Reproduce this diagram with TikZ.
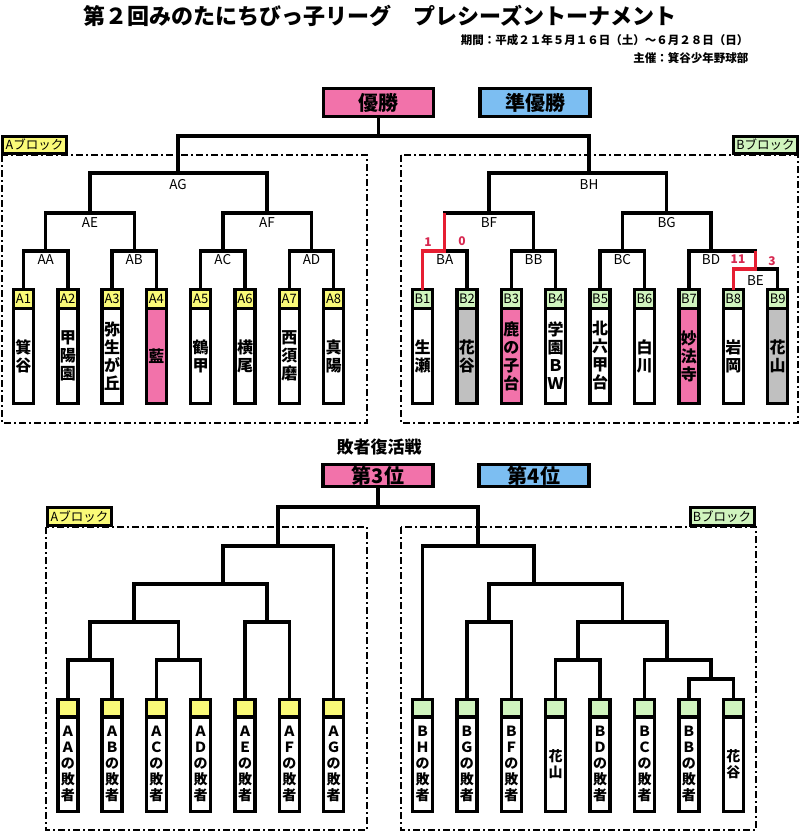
\documentclass[tikz,border=0pt]{standalone}
\usepackage{fontspec}
\setmainfont{Noto Sans CJK JP}
\usepackage{tikz}
\usetikzlibrary{positioning}

\definecolor{pinkc}{RGB}{242,114,170}
\definecolor{bluec}{RGB}{124,190,242}
\definecolor{tagyellow}{RGB}{250,250,120}
\definecolor{taggreen}{RGB}{208,244,190}
\definecolor{lossgray}{RGB}{192,192,192}
\definecolor{winred}{RGB}{230,30,50}
\definecolor{scorered}{RGB}{215,40,80}

\tikzset{
  tree/.style={line width=3.4pt},
  winline/.style={line width=3.4pt, draw=winred},
  block/.style={line width=1.6pt, dash pattern=on 7pt off 3pt on 2pt off 3pt},
  blocktag/.style={draw, line width=3pt, inner sep=0pt, minimum width=64pt, font=\fontsize{12.5}{12.5}\selectfont},
  rank/.style={draw, line width=3.4pt, minimum width=110pt, inner sep=0pt, font=\fontsize{20}{20}\selectfont\bfseries},
  seed/.style={draw, line width=3.4pt, minimum width=20pt, minimum height=19pt, inner sep=0pt, outer sep=0pt, font=\fontsize{13}{13}\selectfont},
  team/.style={draw, line width=3.4pt, fill=white, minimum width=20pt, minimum height=95pt, inner sep=0pt, outer sep=0pt, align=center, font=\fontsize{16}{18}\selectfont\bfseries},
  slot/.style={draw, line width=3.4pt, minimum width=20pt, minimum height=17.5pt, inner sep=0pt, outer sep=0pt},
  loser/.style={draw, line width=3.4pt, fill=white, minimum width=20pt, minimum height=94.5pt, inner sep=0pt, outer sep=0pt, align=center, font=\fontsize{14}{16}\selectfont\bfseries},
  mlabel/.style={inner sep=0pt, font=\fontsize{13.5}{13.5}\selectfont},
  score/.style={inner sep=0pt, text=scorered, font=\fontsize{12}{12}\selectfont\bfseries}
}

\begin{document}
\begin{tikzpicture}[x=1pt, y=-1pt]
\useasboundingbox (0,0) rectangle (800,832);

% --- heading ---
\node[font=\fontsize{22}{22}\selectfont\bfseries] (title) at (380,16) {第２回みのたにちびっ子リーグ　プレシーズントーナメント};
\node[anchor=east, font=\fontsize{11.5}{11.5}\selectfont\bfseries] (period) at (752,40) {期間：平成２１年５月１６日（土）～６月２８日（日）};
\node[anchor=east, font=\fontsize{11.5}{11.5}\selectfont\bfseries] (host) at (752,58) {主催：箕谷少年野球部};

\node[rank, fill=pinkc, minimum height=28pt] (win) at (378.5,102.5) {優勝};
\node[rank, fill=bluec, minimum height=28pt] (second) at (535,102.5) {準優勝};

% --- blocks (main) ---
\draw[block] (2,155) rectangle (367,423);
\draw[block] (401,155) rectangle (798,423);
\node[blocktag, fill=tagyellow, minimum height=17pt] (tagA) at (34.5,145) {Aブロック};
\node[blocktag, fill=taggreen, minimum height=17pt] (tagB) at (765.5,145) {Bブロック};

% A block entries
\node[seed, fill=tagyellow] (A1) at (23.5,299) {A1};   \node[team, below=0pt of A1] (nA1) {箕\\谷};
\node[seed, fill=tagyellow] (A2) at (67.8,299) {A2};   \node[team, below=0pt of A2] (nA2) {甲\\陽\\園};
\node[seed, fill=tagyellow] (A3) at (112.1,299) {A3};  \node[team, below=0pt of A3] (nA3) {弥\\生\\が\\丘};
\node[seed, fill=tagyellow] (A4) at (156.4,299) {A4};  \node[team, fill=pinkc, below=0pt of A4] (nA4) {藍};
\node[seed, fill=tagyellow] (A5) at (200.7,299) {A5};  \node[team, below=0pt of A5] (nA5) {鶴\\甲};
\node[seed, fill=tagyellow] (A6) at (245,299) {A6};    \node[team, below=0pt of A6] (nA6) {横\\尾};
\node[seed, fill=tagyellow] (A7) at (289.3,299) {A7};  \node[team, below=0pt of A7] (nA7) {西\\須\\磨};
\node[seed, fill=tagyellow] (A8) at (333.6,299) {A8};  \node[team, below=0pt of A8] (nA8) {真\\陽};

% B block entries
\node[seed, fill=taggreen] (B1) at (422.5,299) {B1};  \node[team, below=0pt of B1] (nB1) {生\\瀬};
\node[seed, fill=taggreen] (B2) at (466.9,299) {B2};  \node[team, fill=lossgray, below=0pt of B2] (nB2) {花\\谷};
\node[seed, fill=taggreen] (B3) at (511.3,299) {B3};  \node[team, fill=pinkc, below=0pt of B3] (nB3) {鹿\\の\\子\\台};
\node[seed, fill=taggreen] (B4) at (555.7,299) {B4};  \node[team, below=0pt of B4] (nB4) {学\\園\\Ｂ\\Ｗ};
\node[seed, fill=taggreen] (B5) at (600.1,299) {B5};  \node[team, below=0pt of B5] (nB5) {北\\六\\甲\\台};
\node[seed, fill=taggreen] (B6) at (644.5,299) {B6};  \node[team, below=0pt of B6] (nB6) {白\\川};
\node[seed, fill=taggreen] (B7) at (688.9,299) {B7};  \node[team, fill=pinkc, below=0pt of B7] (nB7) {妙\\法\\寺};
\node[seed, fill=taggreen] (B8) at (733.3,299) {B8};  \node[team, below=0pt of B8] (nB8) {岩\\岡};
\node[seed, fill=taggreen] (B9) at (777.7,299) {B9};  \node[team, fill=lossgray, below=0pt of B9] (nB9) {花\\山};

% match points
\coordinate (final) at (378.5,136);
\coordinate (AG) at (178,173);
\coordinate (AE) at (90,213);
\coordinate (AF) at (267,213);
\coordinate (AA) at (45.7,251);
\coordinate (AB) at (134.2,251);
\coordinate (AC) at (222.8,251);
\coordinate (AD) at (311.5,251);
\coordinate (BH) at (589,173);
\coordinate (BF) at (489,213);
\coordinate (BG) at (666.6,213);
\coordinate (BA) at (444.7,251);
\coordinate (BB) at (533.5,251);
\coordinate (BC) at (622.3,251);
\coordinate (BD) at (711,251);
\coordinate (BE) at (755.5,269);

% A bracket
\draw[tree] (A1.north) |- (AA) -| (A2.north);
\draw[tree] (A3.north) |- (AB) -| (A4.north);
\draw[tree] (A5.north) |- (AC) -| (A6.north);
\draw[tree] (A7.north) |- (AD) -| (A8.north);
\draw[tree] (AA) |- (AE) -| (AB);
\draw[tree] (AC) |- (AF) -| (AD);
\draw[tree] (AE) |- (AG) -| (AF);

% B bracket
\draw[tree] (B1.north) |- (BA) -| (B2.north);
\draw[tree] (B3.north) |- (BB) -| (B4.north);
\draw[tree] (B5.north) |- (BC) -| (B6.north);
\draw[tree] (B8.north) |- (BE) -| (B9.north);
\draw[tree] (B7.north) |- (BD) -| (BE);
\draw[tree] (BA) |- (BF) -| (BB);
\draw[tree] (BC) |- (BG) -| (BD);
\draw[tree] (BF) |- (BH) -| (BG);
\draw[winline] (B1.north) |- (BA) -- (BA |- BF);
\draw[winline] (B8.north) |- (BE) -- (BE |- BD);

% final
\draw[tree] (win.south) -- (final);
\draw[tree] (AG) |- (final) -| (BH);

% match labels
\node[mlabel] (lAG) at ([yshift=-12pt]AG) {AG};
\node[mlabel] (lAE) at ([yshift=-10pt]AE) {AE};
\node[mlabel] (lAF) at ([yshift=-10pt]AF) {AF};
\node[mlabel] (lAA) at ([yshift=-9pt]AA) {AA};
\node[mlabel] (lAB) at ([yshift=-9pt]AB) {AB};
\node[mlabel] (lAC) at ([yshift=-9pt]AC) {AC};
\node[mlabel] (lAD) at ([yshift=-9pt]AD) {AD};
\node[mlabel] (lBH) at ([yshift=-12pt]BH) {BH};
\node[mlabel] (lBF) at ([yshift=-10pt]BF) {BF};
\node[mlabel] (lBG) at ([yshift=-10pt]BG) {BG};
\node[mlabel] (lBA) at ([yshift=-9pt]BA) {BA};
\node[mlabel] (lBB) at ([yshift=-9pt]BB) {BB};
\node[mlabel] (lBC) at ([yshift=-9pt]BC) {BC};
\node[mlabel] (lBD) at ([yshift=-9pt]BD) {BD};
\node[mlabel] (lBE) at ([yshift=-12pt]BE) {BE};

% scores
\node[score] (s1) at (428,242) {1};
\node[score] (s2) at (462,241) {0};
\node[score] (s3) at (738,259) {11};
\node[score] (s4) at (772,261) {3};

% --- repechage ---
\node[font=\fontsize{17}{17}\selectfont\bfseries] (repech) at (379,447) {敗者復活戦};
\node[rank, fill=pinkc, minimum height=22pt] (third) at (378,475.5) {第3位};
\node[rank, fill=bluec, minimum height=22pt] (fourth) at (534,475.5) {第4位};

\draw[block] (46,527) rectangle (367,830);
\draw[block] (401,527) rectangle (756,830);
\node[blocktag, fill=tagyellow, minimum height=18pt] (tagA2) at (79.5,516.5) {Aブロック};
\node[blocktag, fill=taggreen, minimum height=18pt] (tagB2) at (722,516.5) {Bブロック};

% A side slots
\node[slot, fill=tagyellow] (rAA) at (67.8,708.3) {};   \node[loser, below=0pt of rAA] (rAAn) {Ａ\\Ａ\\の\\敗\\者};
\node[slot, fill=tagyellow] (rAB) at (112.1,708.3) {};  \node[loser, below=0pt of rAB] (rABn) {Ａ\\Ｂ\\の\\敗\\者};
\node[slot, fill=tagyellow] (rAC) at (156.4,708.3) {};  \node[loser, below=0pt of rAC] (rACn) {Ａ\\Ｃ\\の\\敗\\者};
\node[slot, fill=tagyellow] (rAD) at (200.7,708.3) {};  \node[loser, below=0pt of rAD] (rADn) {Ａ\\Ｄ\\の\\敗\\者};
\node[slot, fill=tagyellow] (rAE) at (245,708.3) {};    \node[loser, below=0pt of rAE] (rAEn) {Ａ\\Ｅ\\の\\敗\\者};
\node[slot, fill=tagyellow] (rAF) at (289.3,708.3) {};  \node[loser, below=0pt of rAF] (rAFn) {Ａ\\Ｆ\\の\\敗\\者};
\node[slot, fill=tagyellow] (rAG) at (333.6,708.3) {};  \node[loser, below=0pt of rAG] (rAGn) {Ａ\\Ｇ\\の\\敗\\者};

% B side slots
\node[slot, fill=taggreen] (rBH) at (422.5,708.3) {};  \node[loser, below=0pt of rBH] (rBHn) {Ｂ\\Ｈ\\の\\敗\\者};
\node[slot, fill=taggreen] (rBG) at (466.9,708.3) {};  \node[loser, below=0pt of rBG] (rBGn) {Ｂ\\Ｇ\\の\\敗\\者};
\node[slot, fill=taggreen] (rBF) at (511.3,708.3) {};  \node[loser, below=0pt of rBF] (rBFn) {Ｂ\\Ｆ\\の\\敗\\者};
\node[slot, fill=taggreen] (rHY) at (555.7,708.3) {};  \node[loser, below=0pt of rHY] (rHYn) {花\\山};
\node[slot, fill=taggreen] (rBD) at (600.1,708.3) {};  \node[loser, below=0pt of rBD] (rBDn) {Ｂ\\Ｄ\\の\\敗\\者};
\node[slot, fill=taggreen] (rBC) at (644.5,708.3) {};  \node[loser, below=0pt of rBC] (rBCn) {Ｂ\\Ｃ\\の\\敗\\者};
\node[slot, fill=taggreen] (rBB) at (688.9,708.3) {};  \node[loser, below=0pt of rBB] (rBBn) {Ｂ\\Ｂ\\の\\敗\\者};
\node[slot, fill=taggreen] (rHT) at (733.3,708.3) {};  \node[loser, below=0pt of rHT] (rHTn) {花\\谷};

% repechage points
\coordinate (rtop) at (378,507);
\coordinate (ra1) at (90,660);
\coordinate (ra2) at (178.5,660);
\coordinate (ra3) at (134,622);
\coordinate (ra4) at (267,622);
\coordinate (ra5) at (223,584);
\coordinate (ra6) at (278,546);
\coordinate (rb1) at (711,679);
\coordinate (rb2) at (667,660);
\coordinate (rb3) at (578,660);
\coordinate (rb4) at (622.5,622);
\coordinate (rb5) at (489,622);
\coordinate (rb6) at (534,584);
\coordinate (rb7) at (478,546);

\draw[tree] (rAA.north) |- (ra1) -| (rAB.north);
\draw[tree] (rAC.north) |- (ra2) -| (rAD.north);
\draw[tree] (ra1) |- (ra3) -| (ra2);
\draw[tree] (rAE.north) |- (ra4) -| (rAF.north);
\draw[tree] (ra3) |- (ra5) -| (ra4);
\draw[tree] (ra5) |- (ra6) -| (rAG.north);

\draw[tree] (rBB.north) |- (rb1) -| (rHT.north);
\draw[tree] (rBC.north) |- (rb2) -| (rb1);
\draw[tree] (rHY.north) |- (rb3) -| (rBD.north);
\draw[tree] (rb3) |- (rb4) -| (rb2);
\draw[tree] (rBG.north) |- (rb5) -| (rBF.north);
\draw[tree] (rb5) |- (rb6) -| (rb4);
\draw[tree] (rBH.north) |- (rb7) -| (rb6);

\draw[tree] (third.south) -- (rtop);
\draw[tree] (ra6) |- (rtop) -| (rb7);
\end{tikzpicture}
\end{document}
